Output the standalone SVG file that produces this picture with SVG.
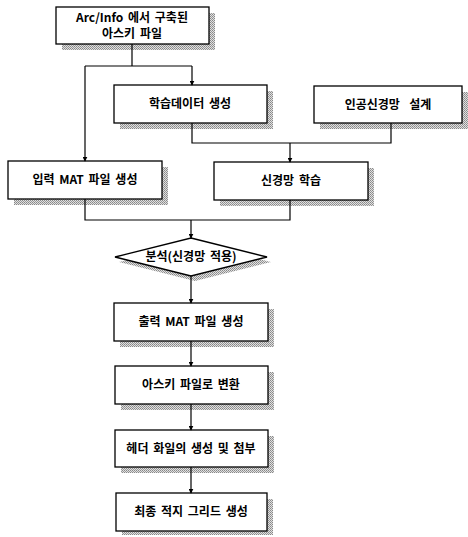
<svg xmlns="http://www.w3.org/2000/svg" width="468" height="537" viewBox="0 0 468 537">
<defs>
<pattern id="dith" width="2" height="2" patternUnits="userSpaceOnUse">
<rect width="2" height="2" fill="#e0e0e0"/>
<rect width="1" height="1" fill="#888"/>
<rect x="1" y="1" width="1" height="1" fill="#999"/>
</pattern>
<marker id="arr" viewBox="0 0 8 8" refX="7" refY="4" markerWidth="5" markerHeight="5" orient="auto" markerUnits="userSpaceOnUse">
<path d="M0,0 L8,4 L0,8 Z" fill="#000"/>
</marker>
</defs>
<style>
.sh{fill:url(#dith);stroke:none}
.bx{fill:#fff;stroke:#000;stroke-width:1.3}
.t{font-family:"Noto Sans CJK KR","Noto Sans",sans-serif;font-weight:bold;font-size:12px;fill:#000;text-anchor:middle;word-spacing:2px}
.c{fill:none;stroke:#000;stroke-width:1.2}
</style>
<rect width="468" height="537" fill="#fff"/>
<g id="n1"><rect class="sh" x="62" y="13" width="153" height="37"/><rect class="bx" x="56" y="7" width="153" height="37"/><text class="t" x="132" y="22">Arc/Info 에서 구축된</text><text class="t" x="132" y="38">아스키 파일</text></g>
<g id="n2"><rect class="sh" x="120" y="91" width="153" height="38"/><rect class="bx" x="114" y="85" width="153" height="38"/><text class="t" x="190" y="108">학습데이터 생성</text></g>
<g id="n3"><rect class="sh" x="320" y="92" width="148" height="37"/><rect class="bx" x="314" y="86" width="148" height="37"/><text class="t" x="388" y="109">인공신경망&#160; 설계</text></g>
<g id="n4"><rect class="sh" x="14" y="167" width="154" height="38"/><rect class="bx" x="8" y="161" width="154" height="38"/><text class="t" x="85" y="184">입력 MAT 파일 생성</text></g>
<g id="n5"><rect class="sh" x="220" y="168" width="154" height="38"/><rect class="bx" x="214" y="162" width="154" height="38"/><text class="t" x="291" y="185">신경망 학습</text></g>
<g id="d1"><polygon class="sh" points="195,243 271,262 195,281 119,262"/><polygon class="bx" points="191,238 267,257 191,276 115,257"/><text class="t" x="191" y="261">분석(신경망 적용)</text></g>
<g id="n6"><rect class="sh" x="120" y="309" width="154" height="38"/><rect class="bx" x="114" y="303" width="154" height="38"/><text class="t" x="191" y="326">출력 MAT 파일 생성</text></g>
<g id="n7"><rect class="sh" x="121" y="372" width="153" height="38"/><rect class="bx" x="115" y="366" width="153" height="38"/><text class="t" x="191" y="389">아스키 파일로 변환</text></g>
<g id="n8"><rect class="sh" x="121" y="436" width="153" height="37"/><rect class="bx" x="115" y="430" width="153" height="37"/><text class="t" x="191" y="453">헤더 화일의 생성 및 첨부</text></g>
<g id="n9"><rect class="sh" x="122" y="499" width="151" height="36"/><rect class="bx" x="116" y="493" width="151" height="38"/><text class="t" x="191" y="516">최종 적지 그리드 생성</text></g>
<g id="connectors">
<path class="c" d="M132,44 V66 M85,66 H192"/>
<path class="c" d="M192,66 V85" marker-end="url(#arr)"/>
<path class="c" d="M85,66 V161" marker-end="url(#arr)"/>
<path class="c" d="M192,123 V143 H391 V123"/>
<path class="c" d="M290,143 V162" marker-end="url(#arr)"/>
<path class="c" d="M85,199 V220 H290 V200"/>
<path class="c" d="M191,220 V238" marker-end="url(#arr)"/>
<path class="c" d="M191,276 V303" marker-end="url(#arr)"/>
<path class="c" d="M191,341 V366" marker-end="url(#arr)"/>
<path class="c" d="M191,404 V430" marker-end="url(#arr)"/>
<path class="c" d="M191,467 V493" marker-end="url(#arr)"/>
</g>
</svg>
